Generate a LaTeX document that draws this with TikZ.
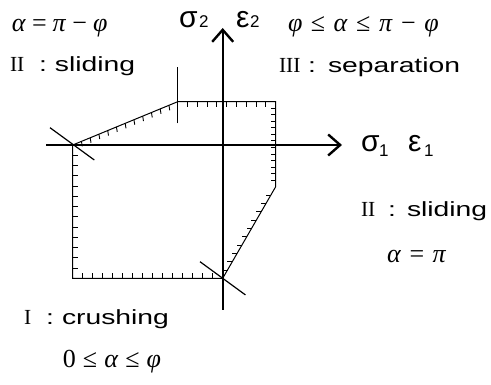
\RequirePackage{fix-cm}
\documentclass[tikz,border=0pt]{standalone}
\usepackage{fontspec}
\usetikzlibrary{arrows.meta,calc}
\newfontfamily\gul{Liberation Sans}[FakeStretch=1.38]
\newfontfamily\grk{Liberation Sans}
\newfontfamily\rmn{Liberation Serif}
\newcommand\gi[1]{\textit{#1}}
\tikzset{
  txt/.style={inner sep=0pt, outer sep=0pt, anchor=base west},
  mth/.style={txt, font=\rmn\fontsize{26}{26}\selectfont},
  word/.style={txt, font=\gul\fontsize{20.5}{20.5}\selectfont},
  rom/.style={txt, font=\rmn\fontsize{21.5}{21.5}\selectfont},
  colon/.style={inner sep=0pt, outer sep=0pt, anchor=base, font=\gul\fontsize{20.5}{20.5}\selectfont},
  big/.style={txt, font=\grk\fontsize{30}{30}\selectfont},
  sub/.style={txt, font=\grk\fontsize{17}{17}\selectfont},
  axis/.style={line width=2.2pt, -{Straight Barb[length=12pt,width=21pt,line width=2.4pt]}},
  edge/.style={line width=1pt, line join=miter},
  tick/.style={line width=0.9pt},
  cross/.style={line width=1.2pt},
}
\newcommand\dohatch[5]{%
  \foreach \k in {1,...,#3}{%
    \pgfmathsetmacro\ff{\k/(#3+1)}%
    \draw[tick] ($(#1)!\ff!(#2)$) -- ++(#4,#5);}}
\begin{document}
\begin{tikzpicture}[x=1pt,y=1pt]
\useasboundingbox (0,0) rectangle (491,385);
% polygon vertices
\coordinate (A) at (72.7,240);
\coordinate (B) at (177.7,283.3);
\coordinate (C) at (275.7,283.3);
\coordinate (D) at (275.7,198.3);
\coordinate (E) at (222.7,106.7);
\coordinate (F) at (72.7,106.7);
\draw[edge] (A) -- (B) -- (C) -- (D) -- (E) -- (F) -- cycle;
\dohatch{A}{B}{11}{0.8}{-5}
\dohatch{B}{C}{9}{0}{-5}
\dohatch{C}{D}{12}{-5}{0}
\dohatch{D}{E}{10}{-5}{0}
\dohatch{E}{F}{14}{0}{5}
\dohatch{F}{A}{12}{5}{0}
% vertical line at B
\coordinate (Bt) at (177.7,318.3);
\coordinate (Bb) at (177.7,261.7);
\draw[edge] (Bb) -- (Bt);
% cross lines
\coordinate (A1) at ($(A)+(-22.7,17.3)$);
\coordinate (A2) at ($(A)+(21.6,-15)$);
\draw[cross] (A1) -- (A2);
\coordinate (E1) at ($(E)+(-22.7,16.6)$);
\coordinate (E2) at ($(E)+(22.7,-16.6)$);
\draw[cross] (E1) -- (E2);
% axes
\coordinate (xl) at (46,240);
\coordinate (xr) at (342,240);
\coordinate (yb) at (222.7,75);
\coordinate (yt) at (222.7,357);
\draw[axis] (xl) -- (xr);
\draw[axis] (yb) -- (yt);
% axis labels
\node[big] (s2) at (179,357) {σ};
\node[sub] (s2i) at (199,357) {2};
\node[big] (e2) at (236,357) {ε};
\node[sub] (e2i) at (250,357) {2};
\node[big] (s1) at (361,233) {σ};
\node[sub] (s1i) at (379,228) {1};
\node[big] (e1) at (408,233) {ε};
\node[sub] (e1i) at (424,228) {1};
% region labels
\node[mth] (m1) at (12,353) {\gi{α}\kern6pt=\kern6pt\gi{π}\kern6pt−\kern6pt\gi{φ}};
\node[rom] (r1) at (10,313) {II};
\node[colon] (c1) at (43,313) {:};
\node[word] (w1) at (55,313) {sliding};
\node[mth] (m2) at (288,353) {\gi{φ}\kern8.5pt≤\kern8.5pt\gi{α}\kern8.5pt≤\kern8.5pt\gi{π}\kern8.5pt−\kern8.5pt\gi{φ}};
\node[rom] (r2) at (279,312) {III};
\node[colon] (c2) at (312,312) {:};
\node[word] (w2) at (328,312) {separation};
\node[rom] (r3) at (361,168) {II};
\node[colon] (c3) at (392,168) {:};
\node[word] (w3) at (407,168) {sliding};
\node[mth] (m3) at (387,122) {\gi{α}\kern8.5pt=\kern8.5pt\gi{π}};
\node[rom] (r4) at (24,60) {I};
\node[colon] (c4) at (50,60) {:};
\node[word] (w4) at (62,60) {crushing};
\node[mth] (m4) at (63,17) {0\kern7pt≤\kern7pt\gi{α}\kern7pt≤\kern7pt\gi{φ}};
\end{tikzpicture}
\end{document}
